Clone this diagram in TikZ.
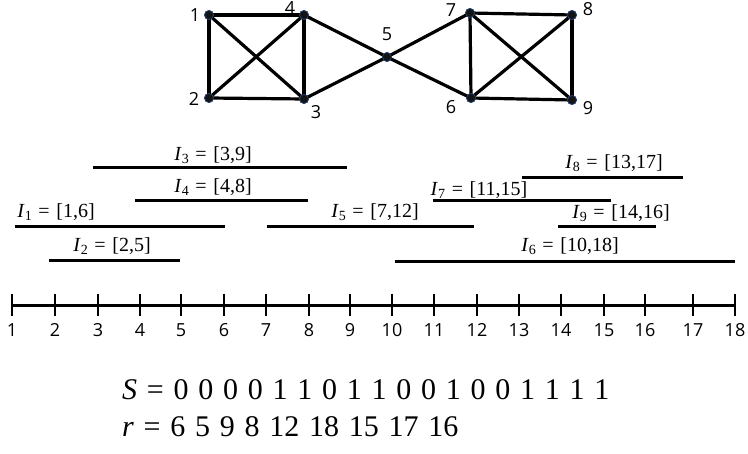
\documentclass[tikz,border=0pt]{standalone}
\usepackage{fontspec}
\setmainfont{Liberation Serif}
\newfontfamily\lblfont{Open Sans}
\newfontfamily\bigserif[WordSpace=1.3]{Liberation Serif}
\newcommand{\Iv}[2]{\textit{I}\raisebox{-0.4ex}{\fontsize{14}{14}\selectfont #1}\,\,=\,\,[#2]}
\begin{document}
\begin{tikzpicture}[x=1pt,y=-1pt,
  gnode/.style={circle,fill=black!92,draw={rgb,255:red,40;green,70;blue,120},line width=0.7pt,inner sep=0pt,minimum size=9pt},
  gedge/.style={line width=3.2pt,black},
  glabel/.style={font=\lblfont\fontsize{18}{18}\selectfont,inner sep=0pt},
  ival/.style={line width=3pt,black,line cap=butt},
  ilabel/.style={font=\fontsize{20}{20}\selectfont,inner sep=0pt},
  tickmark/.style={line width=2.4pt,black},
  ticklabel/.style={font=\lblfont\fontsize{18}{18}\selectfont,inner sep=0pt},
  bigtext/.style={font=\bigserif\fontsize{30}{30}\selectfont,inner sep=0pt,anchor=west}]
\useasboundingbox (0,0) rectangle (748,454);
% graph
\node[gnode] (n1) at (209,15) {};
\node[gnode] (n4) at (304,15) {};
\node[gnode] (n2) at (209,98) {};
\node[gnode] (n3) at (304,99) {};
\node[gnode] (n5) at (387,57) {};
\node[gnode] (n7) at (470,13) {};
\node[gnode] (n8) at (572,15) {};
\node[gnode] (n6) at (471,98) {};
\node[gnode] (n9) at (572,100) {};
\foreach \a/\b in {n1/n4,n1/n2,n1/n3,n2/n4,n2/n3,n4/n3,n4/n5,n3/n5,n5/n7,n5/n6,n7/n8,n7/n6,n7/n9,n6/n8,n6/n9,n8/n9}
  \draw[gedge] (\a.center) -- (\b.center);
\foreach \n in {n1,n2,n3,n4,n5,n6,n7,n8,n9}
  \node[gnode] at (\n.center) {};
\node[glabel] (l1) at (195,15) {1};
\node[glabel] (l4) at (290,8) {4};
\node[glabel] (l2) at (194,99) {2};
\node[glabel] (l3) at (316,112) {3};
\node[glabel] (l5) at (387,34) {5};
\node[glabel] (l7) at (451,10) {7};
\node[glabel] (l8) at (588,9) {8};
\node[glabel] (l6) at (451,107) {6};
\node[glabel] (l9) at (588,108) {9};
% intervals
\draw[ival] (93,168) -- (347,168);
\draw[ival] (135,201) -- (308,201);
\draw[ival] (15,227) -- (225,227);
\draw[ival] (49,261) -- (180,261);
\draw[ival] (267,227) -- (474,227);
\draw[ival] (522,178) -- (683,178);
\draw[ival] (433,201) -- (611,201);
\draw[ival] (558,227) -- (656,227);
\draw[ival] (395,262) -- (735,262);
\node[ilabel] (i3) at (213,155) {\Iv{3}{3,9}};
\node[ilabel] (i4) at (213,187) {\Iv{4}{4,8}};
\node[ilabel] (i1) at (56,212) {\Iv{1}{1,6}};
\node[ilabel] (i2) at (112,246) {\Iv{2}{2,5}};
\node[ilabel] (i5) at (375,212) {\Iv{5}{7,12}};
\node[ilabel] (i8) at (614,163) {\Iv{8}{13,17}};
\node[ilabel] (i7) at (479,190) {\Iv{7}{11,15}};
\node[ilabel] (i9) at (621,213) {\Iv{9}{14,16}};
\node[ilabel] (i6) at (570,246) {\Iv{6}{10,18}};
% number line
\draw[line width=3pt] (12,306) -- (735,306);
\foreach \i/\x in {1/12,2/55,3/98,4/140,5/181,6/224,7/266,8/309,9/350,10/392,11/434,12/477,13/519,14/561,15/604,16/645,17/693,18/735}{
  \draw[tickmark] (\x,294) -- (\x,316);
  \node[ticklabel] (t\i) at (\x,330) {\i};
}
% bottom text
\node[bigtext] (srow) at (122,390) {\textit{S} = 0 0 0 0 1 1 0 1 1 0 0 1 0 0 1 1 1 1};
\node[bigtext] (rrow) at (122,427) {\textit{r} = 6 5 9 8 12 18 15 17 16};
\end{tikzpicture}
\end{document}
